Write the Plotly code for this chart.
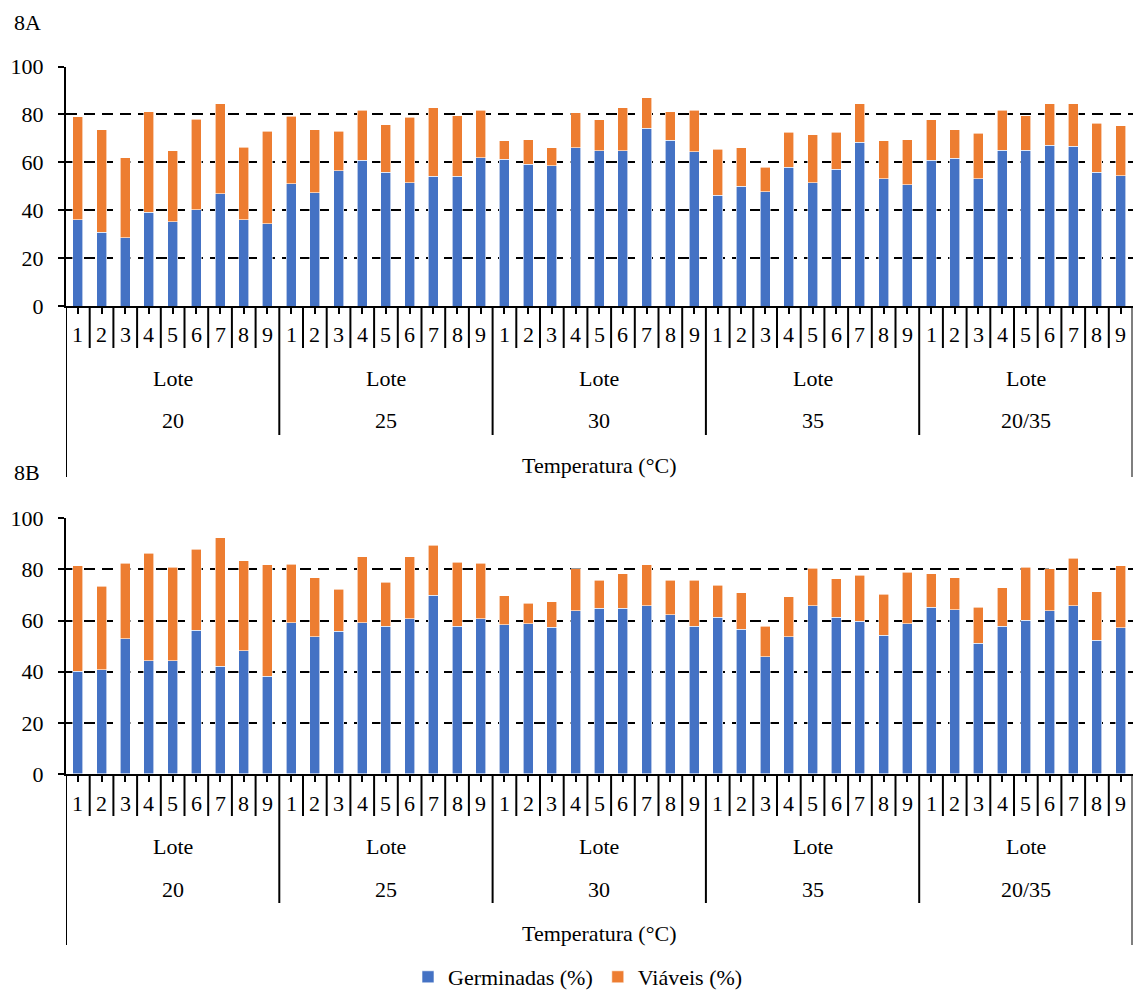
import plotly.graph_objects as go

# Lots within each temperature group, and temperature groups
lotes = ["1", "2", "3", "4", "5", "6", "7", "8", "9"]
temperaturas = ["20", "25", "30", "35", "20/35"]

# Panel 8A: germinated (%) and viable increment stacked on top (%)
germ_a = [36.0, 30.7, 28.5, 39.2, 35.1, 40.2, 46.8, 36.0, 34.4,
          51.0, 47.3, 56.4, 60.8, 55.9, 51.5, 54.2, 54.2, 61.9,
          61.2, 59.1, 58.5, 66.1, 64.9, 64.9, 74.2, 69.3, 64.4,
          46.2, 50.0, 47.8, 58.0, 51.5, 57.0, 68.3, 53.2, 50.6,
          60.8, 61.7, 53.2, 65.1, 65.1, 67.2, 66.6, 55.9, 54.3]
viav_a = [43.1, 42.9, 33.4, 41.9, 29.8, 37.7, 37.6, 30.2, 38.6,
          28.3, 26.3, 16.6, 20.9, 19.8, 27.3, 28.5, 25.3, 19.8,
          7.7, 10.3, 7.6, 14.5, 12.9, 17.8, 12.7, 11.8, 17.3,
          19.3, 16.1, 10.2, 14.6, 20.0, 15.6, 16.2, 15.7, 18.8,
          17.0, 11.9, 18.9, 16.6, 14.4, 17.3, 17.9, 20.5, 21.0]

# Panel 8B
germ_b = [40.2, 40.8, 52.8, 44.3, 44.3, 56.3, 42.2, 48.2, 38.2,
          59.2, 53.7, 55.8, 59.2, 57.8, 60.8, 69.9, 57.8, 60.8,
          58.3, 58.8, 57.4, 63.8, 64.8, 64.8, 65.8, 62.3, 57.8,
          61.3, 56.7, 45.8, 53.7, 65.8, 61.3, 59.7, 54.2, 58.8,
          65.2, 64.3, 51.2, 57.8, 60.2, 63.8, 65.8, 52.3, 57.2]
viav_b = [41.2, 32.6, 29.6, 42.0, 36.5, 31.6, 50.2, 35.2, 43.7,
          22.8, 23.1, 16.4, 25.7, 17.2, 24.1, 19.5, 25.0, 21.6,
          11.5, 8.0, 9.9, 16.5, 10.9, 13.6, 16.1, 13.4, 17.9,
          12.5, 14.1, 12.0, 15.7, 14.6, 15.0, 18.0, 16.1, 20.1,
          13.2, 12.5, 14.1, 15.1, 20.6, 16.5, 18.6, 19.0, 24.2]

y_ticks = [0, 20, 40, 60, 80, 100]

W, H = 1135, 992
BLUE = "#4472C4"
ORANGE = "#ED7D31"
FONT = "Liberation Serif"
FS = 22


def px_x(p):
    return p / W


def px_y(p):
    return 1 - p / H


n = len(lotes) * len(temperaturas)
xpos = list(range(n))

fig = go.Figure()

panels = [
    dict(germ=germ_a, viav=viav_a, yaxis="y", xaxis="x", show=False, label="8A",
         label_y=22, zero=306, top=66.5),
    dict(germ=germ_b, viav=viav_b, yaxis="y2", xaxis="x2", show=True, label="8B",
         label_y=472, zero=774, top=518.3),
]

for p in panels:
    fig.add_trace(go.Bar(x=xpos, y=p["germ"], xaxis=p["xaxis"], yaxis=p["yaxis"],
                         name="Germinadas (%)",
                         marker=dict(color=BLUE, line=dict(color="white", width=0.6)),
                         width=0.42, showlegend=p["show"], legendgroup="g"))
    fig.add_trace(go.Bar(x=xpos, y=p["viav"], xaxis=p["xaxis"], yaxis=p["yaxis"],
                         name="Viáveis (%)",
                         marker=dict(color=ORANGE, line=dict(color="white", width=0.6)),
                         width=0.42, showlegend=p["show"], legendgroup="v"))

x_dom = [px_x(66), px_x(1132.5)]
axis_common = dict(range=[-0.5, n - 0.5], domain=x_dom, showgrid=False, zeroline=False,
                   showline=True, linecolor="black", linewidth=2,
                   tickmode="array", tickvals=xpos, ticks="outside", ticklen=6,
                   tickwidth=2, tickcolor="black", showticklabels=False, fixedrange=True)
yaxis_common = dict(range=[0, 100], tickmode="array", tickvals=y_ticks,
                    showgrid=True, gridcolor="black", gridwidth=2, griddash="11px,7px",
                    zeroline=False, showline=True, linecolor="black", linewidth=2,
                    ticks="outside", ticklen=6, tickwidth=2, tickcolor="black",
                    ticklabelstandoff=10,
                    tickfont=dict(family=FONT, size=FS, color="black"), fixedrange=True)

fig.update_layout(
    xaxis=dict(**axis_common, anchor="y"),
    xaxis2=dict(**axis_common, anchor="y2"),
    yaxis=dict(**yaxis_common, domain=[px_y(306), px_y(66.5)], anchor="x"),
    yaxis2=dict(**yaxis_common, domain=[px_y(774), px_y(518.3)], anchor="x2"),
)

shapes = []
annotations = []
txt = dict(family=FONT, size=FS, color="black")

for p in panels:
    xr = p["xaxis"]
    z = p["zero"]
    # category boundary lines of the multi-level axis
    for k in range(n + 1):
        xb = k - 0.5
        if k == 0 or k == n:
            y_end = z + 171
        elif k % len(lotes) == 0:
            y_end = z + 129
        else:
            y_end = z + 42
        shapes.append(dict(type="line", xref=xr, yref="paper", x0=xb, x1=xb,
                           y0=px_y(z), y1=px_y(y_end), line=dict(color="black", width=2)))
    # lot numbers
    for k in range(n):
        annotations.append(dict(x=k, y=px_y(z + 29), xref=xr, yref="paper",
                                text=lotes[k % len(lotes)], showarrow=False,
                                font=txt, xanchor="center", yanchor="middle"))
    # group labels
    for g, t in enumerate(temperaturas):
        cx = g * len(lotes) + (len(lotes) - 1) / 2
        annotations.append(dict(x=cx, y=px_y(z + 72), xref=xr, yref="paper", text="Lote",
                                showarrow=False, font=txt, xanchor="center", yanchor="middle"))
        annotations.append(dict(x=cx, y=px_y(z + 115), xref=xr, yref="paper", text=t,
                                showarrow=False, font=txt, xanchor="center", yanchor="middle"))
    annotations.append(dict(x=(n - 1) / 2, y=px_y(z + 159), xref=xr, yref="paper",
                            text="Temperatura (°C)", showarrow=False, font=txt,
                            xanchor="center", yanchor="middle"))
    annotations.append(dict(x=px_x(12), y=px_y(p["label_y"]), xref="paper", yref="paper",
                            text=p["label"], showarrow=False,
                            font=dict(family=FONT, size=22, color="black"),
                            xanchor="left", yanchor="middle"))

fig.update_layout(
    width=W, height=H,
    margin=dict(l=0, r=0, t=0, b=0, autoexpand=False),
    paper_bgcolor="white", plot_bgcolor="white",
    barmode="stack",
    shapes=shapes, annotations=annotations,
    showlegend=True,
    legend=dict(orientation="h", x=px_x(578), xanchor="center", y=px_y(977),
                yanchor="middle", font=dict(family=FONT, size=FS, color="black"),
                traceorder="normal", itemwidth=30, bgcolor="rgba(0,0,0,0)"),
)

fig.write_html("out.html")
